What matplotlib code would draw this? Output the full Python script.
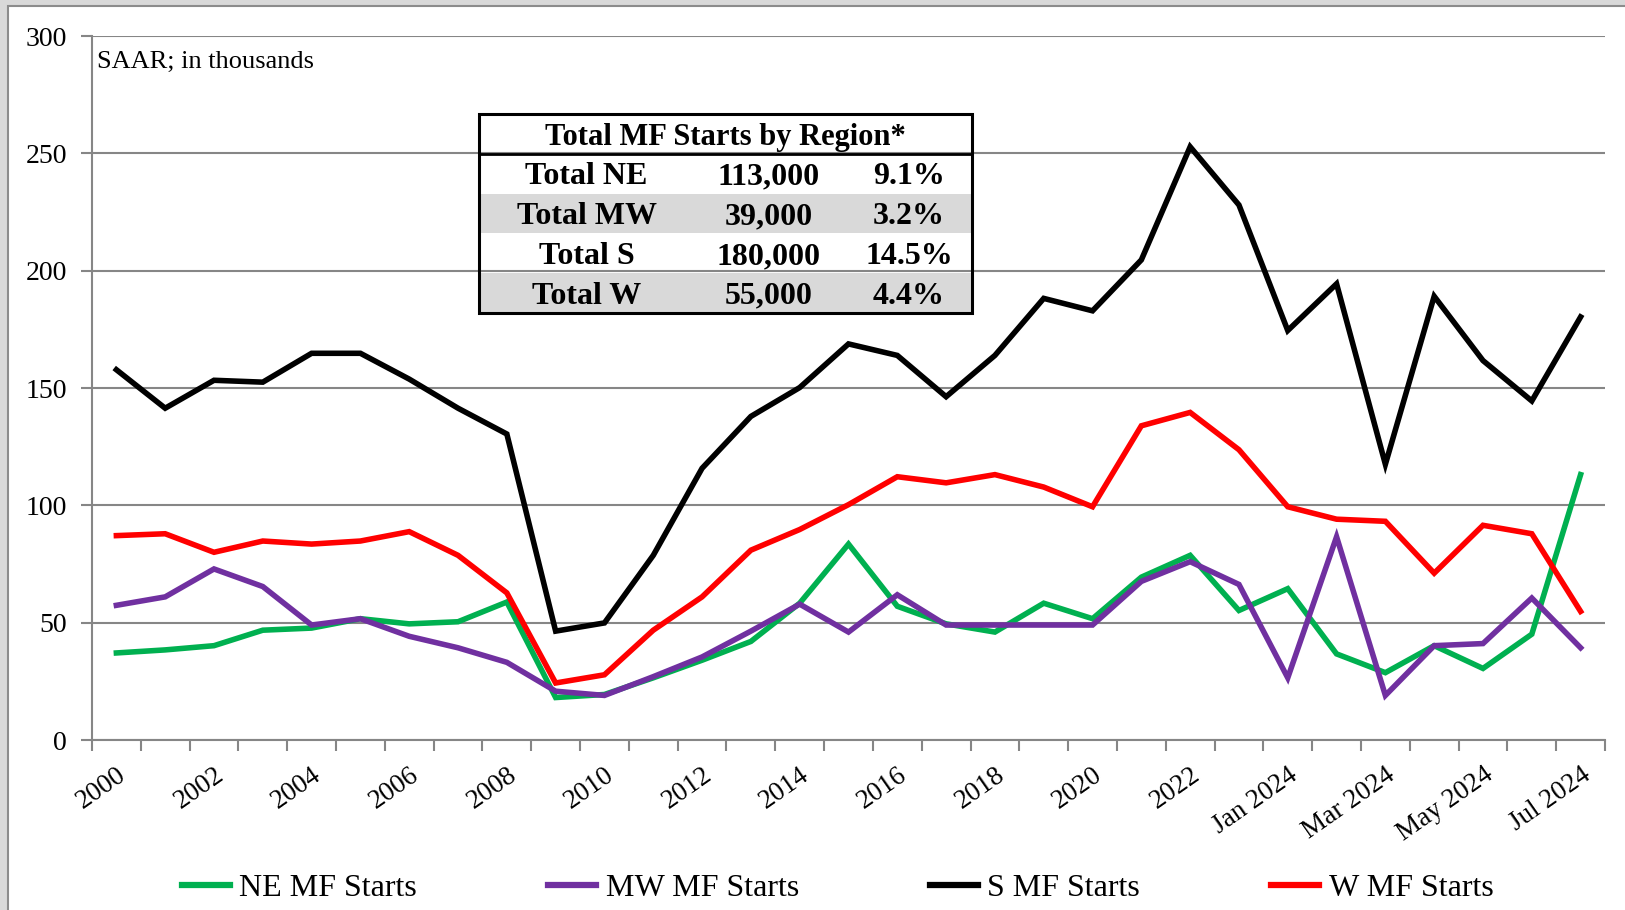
import matplotlib
matplotlib.use('Agg')
import matplotlib.pyplot as plt
import matplotlib.patches as patches
import numpy as np

plt.rcParams['font.family'] = ['Liberation Serif', 'DejaVu Serif']

# 2000-2023 annual, then Jan-Jul 2024 monthly (SAAR, thousands)
periods = [str(y) for y in range(2000, 2024)] + ['Jan 2024', 'Feb 2024', 'Mar 2024', 'Apr 2024',
                                                  'May 2024', 'Jun 2024', 'Jul 2024']
ne = [37.1, 38.4, 40.2, 46.8, 47.7, 51.7, 49.5, 50.4, 58.8, 18.1, 19.4, 26.5, 34.0, 42.0, 58.3,
      83.5, 57.0, 49.5, 46.0, 58.3, 51.7, 69.4, 78.7, 55.2, 64.5, 36.7, 28.7, 40.2, 30.5, 45.1, 113.1]
mw = [57.4, 61.0, 72.9, 65.4, 49.0, 51.7, 44.2, 39.3, 33.1, 20.8, 19.0, 27.0, 35.4, 46.4, 57.9,
      46.0, 61.9, 49.0, 49.0, 49.0, 49.0, 67.6, 76.0, 66.3, 26.5, 86.6, 19.0, 40.2, 41.1, 60.5, 39.3]
s = [157.8, 141.4, 153.3, 152.5, 164.8, 164.8, 153.8, 141.4, 130.4, 46.4, 49.9, 78.7, 115.8, 137.9,
     150.2, 168.8, 163.9, 146.3, 163.9, 188.2, 182.9, 204.6, 252.8, 228.0, 174.5, 194.4, 117.5,
     189.1, 161.7, 144.5, 180.3]
w = [87.1, 87.9, 80.0, 84.8, 83.5, 84.8, 88.8, 78.7, 62.7, 24.3, 27.8, 46.8, 61.0, 80.9, 89.7,
     100.3, 112.2, 109.6, 113.1, 107.8, 99.4, 133.9, 139.6, 123.7, 99.4, 94.1, 93.2, 71.1, 91.5,
     87.9, 54.8]

series_names = ['NE MF Starts', 'MW MF Starts', 'S MF Starts', 'W MF Starts']
series_colors = ['#00b050', '#7030a0', '#000000', '#ff0000']

table_title = 'Total MF Starts by Region*'
table_labels = ['Total NE', 'Total MW', 'Total S', 'Total W']
table_counts = ['113,000', '39,000', '180,000', '55,000']
table_shares = ['9.1%', '3.2%', '14.5%', '4.4%']

fig = plt.figure(figsize=(16.25, 9.1), dpi=100)
fig.patch.set_facecolor('#d9d9d9')
# white slide area with thin grey frame
fig.patches.append(patches.Rectangle((8 / 1625, -0.01), 1.0, 1 - 6 / 910 + 0.01,
                                     transform=fig.transFigure, facecolor='white',
                                     edgecolor='#8c8c8c', linewidth=1.5, zorder=-10))

ax = fig.add_axes([0.0566, 0.1868, 0.9311, 0.7736])
ax.set_facecolor('white')
x = np.arange(len(periods))
for vals, name, col in zip([ne, mw, s, w], series_names, series_colors):
    ax.plot(x, vals, color=col, lw=4.0, label=name, solid_joinstyle='miter', zorder=3)

ax.set_xlim(-0.5, len(periods) - 0.5)
ax.set_ylim(0, 300)
ax.set_yticks(range(0, 301, 50))
ax.yaxis.grid(True, color='#868686', lw=1.5)
ax.set_axisbelow(True)
for sp in ['top', 'right']:
    ax.spines[sp].set_visible(False)
for sp in ['left', 'bottom']:
    ax.spines[sp].set_color('#868686')
    ax.spines[sp].set_linewidth(1.5)
ax.tick_params(axis='y', colors='#868686', length=8, width=1.5, labelsize=20,
               labelcolor='black', pad=10)

# category ticks between points, labels every other period
ax.set_xticks(np.arange(-0.5, len(periods)), minor=True)
ax.tick_params(axis='x', which='minor', length=8, width=1.5, color='#868686')
lab_idx = list(range(0, 24, 2)) + [24, 26, 28, 30]
ax.set_xticks(lab_idx)
ax.set_xticklabels([periods[i] for i in lab_idx], rotation=35, ha='right',
                   rotation_mode='anchor', fontsize=19.5)
ax.tick_params(axis='x', which='major', length=0, pad=16)

ax.text(0.003, 0.963, 'SAAR; in thousands', transform=ax.transAxes, fontsize=19,
        ha='left', va='center')

# summary table
tax = fig.add_axes([0.2948, 0.656, 0.3034, 0.2187])
tax.set_xlim(0, 1)
tax.set_ylim(0, 5)
tax.axis('off')
for r in range(4):
    yb = 3 - r
    if r % 2 == 1:
        tax.add_patch(patches.Rectangle((0, yb), 1, 1, facecolor='#d9d9d9', edgecolor='none'))
    for cx, txt in zip([0.218, 0.588, 0.872], [table_labels[r], table_counts[r], table_shares[r]]):
        tax.text(cx, yb + 0.42, txt, fontsize=23, fontweight='bold', ha='center', va='center')
tax.text(0.5, 4.42, table_title, fontsize=22, fontweight='bold', ha='center', va='center')
tax.plot([0, 1], [4, 4], color='black', lw=2)
tax.add_patch(patches.Rectangle((0, 0), 1, 5, facecolor='none', edgecolor='black', lw=2.2,
                                clip_on=False))

leg = fig.legend(loc='center', bbox_to_anchor=(0.5155, 0.024), ncol=4, frameon=False,
                 fontsize=23, handlelength=1.5, handletextpad=0.3, columnspacing=4.1)
for h in leg.get_lines():
    h.set_linewidth(4.5)

plt.savefig('out.png', dpi=100, facecolor=fig.get_facecolor())
plt.close()
